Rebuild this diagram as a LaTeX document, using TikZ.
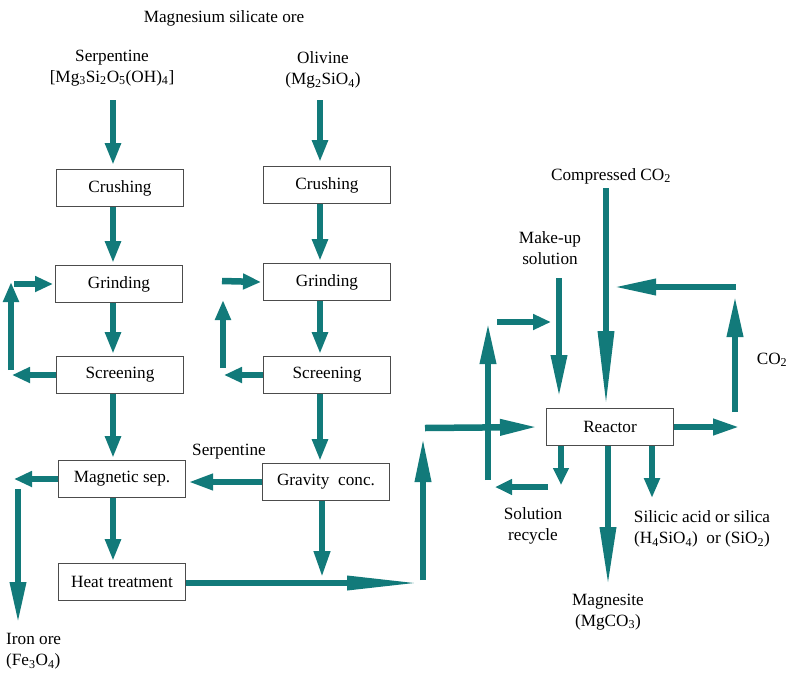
\documentclass[tikz,border=0pt]{standalone}
\usepackage{fontspec}
\setmainfont{Liberation Serif}
\usetikzlibrary{arrows.meta,calc}
\definecolor{flowteal}{RGB}{18,122,122}
\newcommand{\sub}[1]{\textsubscript{#1}}
\begin{document}
\begin{tikzpicture}[x=1pt,y=-1pt,
  font=\fontsize{17.2}{21}\selectfont,
  unit/.style={draw=black!70, line width=1pt, fill=white,
    minimum width=127pt, minimum height=37pt, inner sep=0pt},
  flow/.style={draw=flowteal, line width=6.5pt,
    -{Triangle[length=#1,width=15pt]}},
  flow/.default=22pt,
  lbl/.style={align=center, inner sep=0pt}
]
\useasboundingbox (0,0) rectangle (787,678);

% ---------- labels ----------
\node[lbl] (title) at (224,18) {Magnesium silicate ore};
\node[lbl] (serp) at (112,68) {Serpentine\\{[}Mg\sub{3}Si\sub{2}O\sub{5}(OH)\sub{4}{]}};
\node[lbl] (oliv) at (323,70) {Olivine\\(Mg\sub{2}SiO\sub{4})};
\node[lbl] (serp2) at (229,452) {Serpentine};
\node[lbl, anchor=north west, align=left] (iron) at (6,633) {Iron ore\\(Fe\sub{3}O\sub{4})};
\node[lbl] (cco2) at (611,176) {Compressed CO\sub{2}};
\node[lbl] (makeup) at (550,248) {Make-up\\solution};
\node[lbl] (co2) at (772,360) {CO\sub{2}};
\node[lbl] (solrec) at (533,526) {Solution\\recycle};
\node[lbl] (mgco) at (608,612) {Magnesite\\(MgCO\sub{3})};
\node[lbl] (silica) at (702,529) {Silicic acid or silica\\(H\sub{4}SiO\sub{4})\ \ or (SiO\sub{2})};

% ---------- process units ----------
\node[unit] (crL)  at (120,188) {Crushing};
\node[unit] (crR)  at (327,185) {Crushing};
\node[unit] (grL)  at (119,284) {Grinding};
\node[unit] (grR)  at (327,282) {Grinding};
\node[unit] (scL)  at (120,375) {Screening};
\node[unit] (scR)  at (327,375) {Screening};
\node[unit] (mag)  at (122,479) {Magnetic sep.};
\node[unit] (grav) at (326,482) {Gravity\ \ conc.};
\node[unit] (heat) at (122,582) {Heat treatment};
\node[unit] (reac) at (610,427) {Reactor};

% ---------- column guides and free ends ----------
\coordinate (colL) at (113,0);
\coordinate (colR) at (320,0);
\coordinate (colG) at (322,0);
\coordinate (serpOut) at (113,100);
\coordinate (olivOut) at (320,100);

\coordinate (lpLout) at (12,0);
\coordinate (lpLbot) at (11,370);
\coordinate (lpLtop) at (11,282);
\coordinate (lpLin)  at (14,284);
\coordinate (lpRout) at (224,0);
\coordinate (lpRbot) at (223,368);
\coordinate (lpRtop) at (223,300);
\coordinate (lpRin)  at (222,281);

\coordinate (ironOut) at (14,0);
\coordinate (ironTop) at (18,489);
\coordinate (ironTip) at (18,624);
\coordinate (gravTip) at (322,578);
\coordinate (heatTip) at (423,583);
\coordinate (riseBot) at (423,580);
\coordinate (riseTop) at (423,437);
\coordinate (feedIn)  at (425,428);
\coordinate (recBot)  at (488,480);
\coordinate (recTop)  at (488,322);
\coordinate (recIn)   at (497,322);
\coordinate (recTip)  at (551,322);
\coordinate (mkTop)   at (559,278);
\coordinate (coTop)   at (606,188);
\coordinate (coOut)   at (740,427);
\coordinate (coBot)   at (735,412);
\coordinate (coUp)    at (735,295);
\coordinate (coBack)  at (736,287);
\coordinate (coBackTip) at (613,287);
\coordinate (solTip)  at (561,485);
\coordinate (solStart) at (548,487);
\coordinate (solEnd)  at (495,487);
\coordinate (mgTip)   at (608,587);
\coordinate (siTip)   at (652,498);

% ---------- serpentine line ----------
\draw[flow] (serpOut) -- ([yshift=4pt]crL.north -| colL);
\draw[flow] (crL.south -| colL) -- ([yshift=2pt]grL.north -| colL);
\draw[flow] (grL.south -| colL) -- ([yshift=2pt]scL.north -| colL);
\draw[flow] (scL.south -| colL) -- ([yshift=2pt]mag.north -| colL);
\draw[flow] (mag.south -| colL) -- ([yshift=2pt]heat.north -| colL);

\draw[flow=18pt] (scL.west) -- (scL.west -| lpLout);
\draw[flow=20pt] (lpLbot) -- (lpLtop);
\draw[flow=18pt] (lpLin) -- ([xshift=-2pt]grL.west);

% ---------- olivine line ----------
\draw[flow] (olivOut) -- ([yshift=4pt]crR.north -| colR);
\draw[flow] (crR.south -| colR) -- ([yshift=2pt]grR.north -| colR);
\draw[flow] (grR.south -| colR) -- ([yshift=2pt]scR.north -| colR);
\draw[flow] (scR.south -| colR) -- ([yshift=2pt]grav.north -| colR);

\draw[flow=18pt] (scR.west) -- (scR.west -| lpRout);
\draw[flow=20pt] (lpRbot) -- (lpRtop);
\draw[flow=18pt] (lpRin) -- ([xshift=-2pt]grR.west);

% ---------- separation and heat treatment ----------
\draw[flow=25pt] (grav.west) -- ([xshift=2pt]grav.west -| mag.east);
\draw[flow=18pt] (mag.west) -- (mag.west -| ironOut);
\draw[flow=42pt] (ironTop) -- (ironTip);
\draw[flow=27pt] (grav.south -| colG) -- (gravTip);
\draw[draw=flowteal, line width=6.5pt, -{Triangle[length=76pt,width=13pt]}]
  (heat.east |- heatTip) -- (heatTip);

% ---------- carbonation reactor ----------
\draw[flow=45pt] (riseBot) -- (riseTop);
\draw[flow=38pt] (feedIn) -- ([xshift=-8pt]reac.west);
\draw[flow=42pt] (recBot) -- (recTop);
\draw[flow=18pt] (recIn) -- (recTip);
\draw[flow=43pt] (mkTop) -- ([yshift=10pt]reac.north -| mkTop);
\draw[flow=77pt] (coTop) -- (reac.north -| coTop);
\draw[flow=27pt] (reac.east) -- (coOut);
\draw[flow=42pt] (coBot) -- (coUp);
\draw[flow=43pt] (coBack) -- (coBackTip);
\draw[flow=17pt] (reac.south -| solTip) -- (solTip);
\draw[flow=17pt] (solStart) -- (solEnd);
\draw[flow=60pt] (reac.south -| mgTip) -- (mgTip);
\draw[flow=20pt] (reac.south -| siTip) -- (siTip);
\end{tikzpicture}
\end{document}
